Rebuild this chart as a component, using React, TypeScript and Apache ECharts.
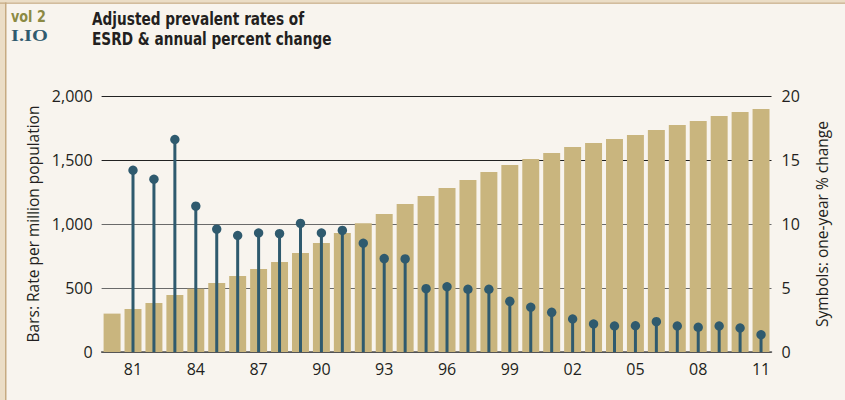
import React, { useEffect, useRef } from "react";
import * as echarts from "echarts";

const years: string[] = [];
for (let y = 1980; y <= 2011; y++) years.push(String(y));

const rateBars = [
  300, 336, 383, 445, 495, 539, 594, 648, 703, 773, 852, 930, 1006, 1078, 1156, 1219,
  1281, 1344, 1406, 1461, 1508, 1555, 1602, 1633, 1664, 1695, 1734, 1773, 1805, 1844, 1875, 1898,
];

const pctChange: (number | null)[] = [
  null, 14.2, 13.5, 16.6, 11.4, 9.6, 9.1, 9.3, 9.25, 10.05, 9.3, 9.5, 8.5, 7.3, 7.27, 4.95,
  5.1, 4.9, 4.9, 3.96, 3.5, 3.1, 2.58, 2.19, 2.03, 2.05, 2.37, 2.03, 1.93, 2.03, 1.875, 1.35,
];

const leftTicks = [0, 500, 1000, 1500, 2000];
const rightTicks = [0, 5, 10, 15, 20];

const BAR = "#C9B57E";
const STEM = "#2F5A6E";
const TEXT = "#231F20";
const FONT = "'Open Sans', 'Noto Sans', sans-serif";
const COND = "'DejaVu Sans', sans-serif";

export default function App() {
  const ref = useRef<HTMLDivElement>(null);
  useEffect(() => {
    document.body.style.margin = "0";
    const chart = echarts.init(ref.current!, undefined, { renderer: "svg" });
    const stemData = pctChange
      .map((v, i) => (v == null ? null : [i, v]))
      .filter((d) => d !== null);
    chart.setOption({
      animation: false,
      backgroundColor: "#F8F4EE",
      grid: { left: 101.6, right: 73.5, top: 96, bottom: 48 },
      graphic: [
        { type: "rect", shape: { x: 0, y: 0, width: 5, height: 400 }, style: { fill: "#EBDDC6" }, silent: true },
        { type: "rect", shape: { x: 5, y: 0, width: 1.5, height: 400 }, style: { fill: "#C6AA82" }, silent: true },
        { type: "rect", shape: { x: 0, y: 0, width: 845, height: 2.5 }, style: { fill: "#EBDDC6" }, silent: true },
        { type: "rect", shape: { x: 0, y: 2.5, width: 845, height: 1.2 }, style: { fill: "#C6AA82" }, silent: true },
        {
          type: "text", x: 11, y: 8, scaleX: 0.8,
          style: { text: "vol 2", fill: "#8C8A44", font: `bold 16px ${COND}` },
        },
        {
          type: "text", x: 11, y: 27, scaleX: 1.2,
          style: { text: "I.IO", fill: STEM, font: `bold 17px 'Liberation Serif', 'DejaVu Serif', serif` },
        },
        {
          type: "text", x: 92, y: 9, scaleX: 0.76,
          style: {
            text: "Adjusted prevalent rates of\nESRD & annual percent change",
            fill: TEXT, font: `bold 18px ${COND}`, lineHeight: 20,
          },
        },
      ],
      xAxis: {
        type: "category",
        data: years,
        axisLine: { lineStyle: { color: "#555", width: 1.5 } },
        axisTick: { show: false },
        axisLabel: {
          color: TEXT, fontFamily: FONT, fontSize: 16, margin: 9,
          interval: (i: number) => (i - 1) % 3 === 0,
          formatter: (v: string) => v.slice(2),
        },
      },
      yAxis: [
        {
          type: "value", min: leftTicks[0], max: leftTicks[leftTicks.length - 1], interval: 500,
          name: "Bars: Rate per million population",
          nameLocation: "middle", nameGap: 58, nameRotate: 90,
          nameTextStyle: { color: TEXT, fontFamily: FONT, fontSize: 15.5 },
          axisLine: { show: false }, axisTick: { show: false },
          axisLabel: {
            color: TEXT, fontFamily: FONT, fontSize: 16, margin: 9,
            formatter: (v: number) => v.toLocaleString("en-US"),
          },
          splitLine: { lineStyle: { color: ["#555", "#6a6a6a", "#6a6a6a", "#222", "#222"], width: 1.2 } },
        },
        {
          type: "value", min: rightTicks[0], max: rightTicks[rightTicks.length - 1], interval: 5,
          name: "Symbols: one-year % change",
          nameLocation: "middle", nameGap: 42, nameRotate: 90,
          nameTextStyle: { color: TEXT, fontFamily: FONT, fontSize: 15.5 },
          axisLine: { show: false }, axisTick: { show: false },
          axisLabel: { color: TEXT, fontFamily: FONT, fontSize: 16, margin: 10 },
          splitLine: { show: false },
        },
      ],
      series: [
        {
          type: "bar", data: rateBars, yAxisIndex: 0,
          barCategoryGap: "19%", itemStyle: { color: BAR }, z: 2,
        },
        {
          type: "custom", yAxisIndex: 1, data: stemData, z: 3,
          encode: { x: 0, y: 1 },
          renderItem: (params: any, api: any) => {
            const top = api.coord([api.value(0), api.value(1)]);
            const base = api.coord([api.value(0), 0]);
            return {
              type: "group",
              children: [
                { type: "line", shape: { x1: top[0], y1: base[1], x2: top[0], y2: top[1] }, style: { stroke: STEM, lineWidth: 3 } },
                { type: "circle", shape: { cx: top[0], cy: top[1], r: 4.7 }, style: { fill: STEM } },
              ],
            };
          },
        },
      ],
    });
    return () => chart.dispose();
  }, []);
  return <div ref={ref} style={{ width: 845, height: 400 }} />;
}
